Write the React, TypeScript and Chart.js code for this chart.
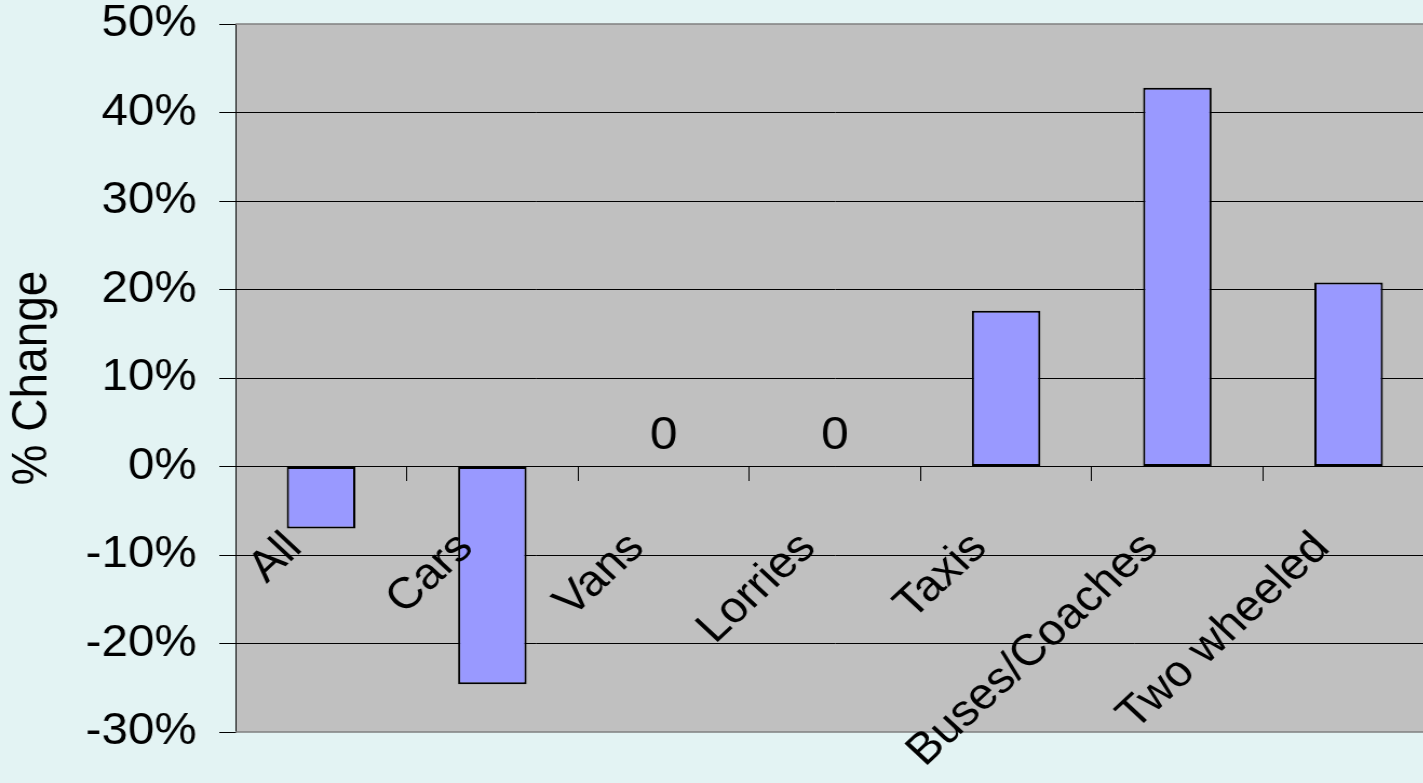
import React, { useEffect, useRef } from "react";
import { Chart, registerables } from "chart.js";

Chart.register(...registerables);

// Vehicle categories and their percentage change
const categories = ["All", "Cars", "Vans", "Lorries", "Taxis", "Buses/Coaches", "Two wheeled"];
const changePct = [-7.0, -24.6, 0, 0, 17.6, 42.8, 20.8];
const yTicks = [-30, -20, -10, 0, 10, 20, 30, 40, 50];

const FONT = "'Liberation Sans', Arial, Helvetica, sans-serif";
const PAGE_BG = "#e3f3f3";
const PLOT_BG = "#c0c0c0";
const BAR_FILL = "#9999ff";
// the whole drawing is widened horizontally by this factor
const STRETCH_X = 1.08;
const CANVAS_W = 1330;
const CANVAS_H = 783;

const plotAreaPlugin = {
  id: "plotArea",
  beforeDraw(chart: any) {
    const { ctx, chartArea: a } = chart;
    ctx.save();
    ctx.fillStyle = PLOT_BG;
    ctx.fillRect(a.left, a.top, a.right - a.left, a.bottom - a.top);
    ctx.restore();
  },
  afterDraw(chart: any) {
    const { ctx, chartArea: a } = chart;
    ctx.save();
    ctx.strokeStyle = "#808080";
    ctx.lineWidth = 1.5;
    ctx.beginPath();
    ctx.moveTo(a.left, a.top);
    ctx.lineTo(a.right, a.top);
    ctx.moveTo(a.left, a.bottom);
    ctx.lineTo(a.right, a.bottom);
    ctx.stroke();
    ctx.restore();
  },
};

// Category names drawn diagonally just under the zero line, plus "0" labels for zero values
const labelsPlugin = {
  id: "categoryLabels",
  afterDraw(chart: any) {
    const { ctx } = chart;
    const xs = chart.scales.x;
    const ys = chart.scales.y;
    const y0 = ys.getPixelForValue(0);
    ctx.save();
    ctx.fillStyle = "#000";
    ctx.font = `44px ${FONT}`;
    categories.forEach((name, i) => {
      const x = xs.getPixelForValue(i);
      ctx.save();
      ctx.translate(x - 16, y0 + 83);
      ctx.rotate(-Math.PI / 4);
      ctx.textAlign = "right";
      ctx.textBaseline = "alphabetic";
      ctx.fillText(name, 0, 0);
      ctx.restore();
    });
    ctx.font = `46px ${FONT}`;
    ctx.textAlign = "center";
    ctx.textBaseline = "alphabetic";
    changePct.forEach((v, i) => {
      if (v !== 0) return;
      const x = xs.getPixelForValue(i);
      ctx.fillText(String(v), x, ys.getPixelForValue(v) - 18);
    });
    ctx.restore();
  },
};

export default function App() {
  const canvasRef = useRef<HTMLCanvasElement | null>(null);

  useEffect(() => {
    document.body.style.margin = "0";
    document.body.style.background = PAGE_BG;
    const canvas = canvasRef.current;
    if (!canvas) return;
    const chart = new Chart(canvas, {
      type: "bar",
      data: {
        labels: categories,
        datasets: [
          {
            data: changePct,
            backgroundColor: BAR_FILL,
            borderColor: "#000",
            borderWidth: 2,
            borderSkipped: false,
            barPercentage: 0.4,
            categoryPercentage: 1.0,
          },
        ],
      },
      options: {
        animation: false,
        responsive: false,
        devicePixelRatio: 1,
        layout: { padding: { left: 0, top: 24, right: 2, bottom: 51 } },
        plugins: {
          legend: { display: false },
          tooltip: { enabled: false },
        },
        scales: {
          x: {
            type: "category",
            position: { y: 0 } as any,
            offset: true,
            ticks: { display: false },
            grid: {
              offset: true,
              drawOnChartArea: false,
              drawTicks: true,
              tickLength: 14,
              color: "#000",
              tickColor: "#000",
            },
            border: { display: true, color: "#000", width: 1 },
          },
          y: {
            min: -30,
            max: 50,
            afterBuildTicks: (s: any) => {
              s.ticks = yTicks.map((v) => ({ value: v }));
            },
            afterFit: (s: any) => {
              s.width = 218;
              s.paddingTop = 0;
              s.paddingBottom = 0;
            },
            ticks: {
              color: "#000",
              padding: 21,
              font: { family: FONT, size: 44, lineHeight: 1 },
              callback: (v: any) => `${v}%`,
            },
            grid: {
              color: (c: any) =>
                c.tick && (c.tick.value === 50 || c.tick.value === -30) ? "rgba(0,0,0,0)" : "#000",
              tickColor: "#000",
              tickLength: 15,
              lineWidth: 1,
            },
            border: { display: true, color: "#000", width: 1 },
            title: {
              display: true,
              text: "% Change",
              color: "#000",
              font: { family: FONT, size: 46 },
              padding: { top: 3, bottom: 0 },
            },
          },
        },
      },
      plugins: [plotAreaPlugin, labelsPlugin],
    });
    return () => chart.destroy();
  }, []);

  return (
    <div
      style={{
        width: 1423,
        height: 783,
        overflow: "hidden",
        background: PAGE_BG,
        position: "relative",
      }}
    >
      <canvas
        ref={canvasRef}
        width={CANVAS_W}
        height={CANVAS_H}
        style={{
          display: "block",
          transform: `scaleX(${STRETCH_X})`,
          transformOrigin: "0 0",
        }}
      />
    </div>
  );
}
